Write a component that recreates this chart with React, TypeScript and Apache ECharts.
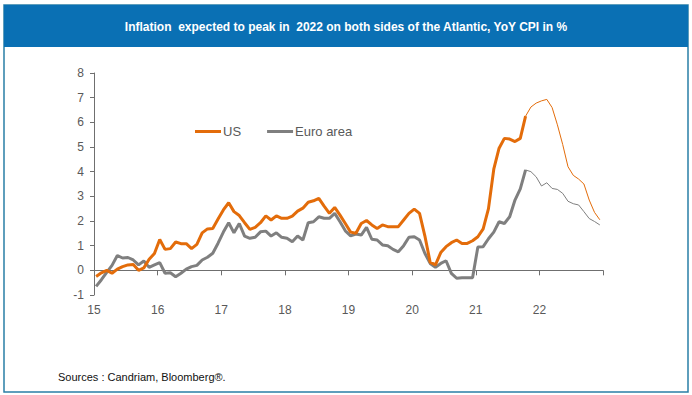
import React, { useEffect, useRef } from "react";
import * as echarts from "echarts";

const START_YEAR = 2015;
const X_MIN = 2015;
const X_MAX = 2023;
const Y_MIN = -1;
const Y_MAX = 8;

const TITLE = "Inflation  expected to peak in  2022 on both sides of the Atlantic, YoY CPI in %";
const SOURCE = "Sources : Candriam, Bloomberg®.";
const SERIES_NAMES = ["US", "Euro area"];

// Monthly YoY CPI, Jan 2015 .. Oct 2021 (actual)
const usActual = [
  -0.25, -0.1, 0.0, -0.12, 0.05, 0.15, 0.22, 0.24, 0.0, 0.1, 0.45, 0.68,
  1.25, 0.85, 0.88, 1.15, 1.08, 1.08, 0.88, 1.05, 1.52, 1.68, 1.7, 2.08,
  2.45, 2.74, 2.38, 2.22, 1.93, 1.66, 1.74, 1.93, 2.21, 2.04, 2.21, 2.11,
  2.11, 2.2, 2.4, 2.52, 2.76, 2.82, 2.92, 2.6, 2.31, 2.55, 2.24, 1.9,
  1.55, 1.5, 1.9, 2.02, 1.84, 1.7, 1.84, 1.77, 1.77, 1.77, 2.04, 2.31,
  2.48, 2.31, 1.4, 0.33, 0.22, 0.72, 0.96, 1.12, 1.23, 1.09, 1.09, 1.2,
  1.36, 1.68, 2.5, 4.1, 4.95, 5.35, 5.32, 5.22, 5.35, 6.25,
];
// Oct 2021 .. Dec 2022 (forecast)
const usForecast = [6.25, 6.62, 6.78, 6.87, 6.93, 6.6, 5.9, 5.1, 4.2, 3.85, 3.7, 3.5, 2.85, 2.35, 2.05];

const euroActual = [
  -0.65, -0.38, -0.08, 0.2, 0.6, 0.5, 0.52, 0.42, 0.22, 0.38, 0.12, 0.22,
  0.31, -0.12, -0.1, -0.26, -0.12, 0.05, 0.15, 0.2, 0.42, 0.53, 0.69, 1.1,
  1.55, 1.93, 1.52, 1.9, 1.39, 1.3, 1.34, 1.56, 1.59, 1.39, 1.52, 1.34,
  1.3, 1.16, 1.39, 1.23, 1.93, 1.97, 2.17, 2.11, 2.11, 2.31, 1.97, 1.6,
  1.4, 1.47, 1.43, 1.74, 1.26, 1.23, 1.03, 1.0, 0.85, 0.75, 1.0, 1.34,
  1.36, 1.23, 0.69, 0.28, 0.12, 0.28, 0.39, -0.12, -0.32, -0.3, -0.3, -0.3,
  0.95, 0.96, 1.28, 1.55, 1.97, 1.9, 2.17, 2.85, 3.3, 4.07,
];
const euroForecast = [4.07, 4.0, 3.79, 3.42, 3.55, 3.32, 3.28, 3.12, 2.8, 2.7, 2.65, 2.38, 2.1, 1.98, 1.84];

const FORECAST_START = usActual.length - 1;

const toPoints = (vals: number[], offset: number) =>
  vals.map((v, i) => [START_YEAR + (offset + i + 0.4) / 12, v]);

const ORANGE = "#E36C0A";
const GREY = "#7F7F7F";
const AXIS = "#6f6f6f";
const LABEL = "#595959";
const FONT = "'Liberation Sans', Arial, sans-serif";

export default function App() {
  const ref = useRef<HTMLDivElement>(null);
  useEffect(() => {
    document.body.style.margin = "0";
    if (!ref.current) return;
    const chart = echarts.init(ref.current, null, { renderer: "svg" });
    chart.setOption({
      animation: false,
      backgroundColor: "#ffffff",
      textStyle: { fontFamily: FONT },
      grid: { left: 94, right: 89, top: 73, bottom: 100, containLabel: false },
      legend: {
        data: SERIES_NAMES,
        left: 190,
        top: 120,
        icon: "rect",
        itemWidth: 26,
        itemHeight: 3,
        itemGap: 26,
        textStyle: { fontSize: 13, color: LABEL, fontFamily: FONT, padding: [0, 0, 0, -3] },
      },
      xAxis: [
        {
          type: "value",
          min: X_MIN,
          max: X_MAX,
          interval: 1,
          axisLine: { show: true, onZero: true, lineStyle: { color: AXIS, width: 1 } },
          axisTick: { show: true, inside: false, length: 5, lineStyle: { color: AXIS } },
          axisLabel: { show: false },
          splitLine: { show: false },
        },
        {
          type: "value",
          position: "bottom",
          min: X_MIN,
          max: X_MAX,
          interval: 1,
          axisLine: { show: false, onZero: false },
          axisTick: { show: false },
          axisLabel: {
            show: true,
            margin: 9,
            fontSize: 12,
            color: LABEL,
            fontFamily: FONT,
            formatter: (v: number) => (v < X_MAX ? String(v - 2000) : ""),
          },
          splitLine: { show: false },
        },
      ],
      yAxis: {
        type: "value",
        min: Y_MIN,
        max: Y_MAX,
        interval: 1,
        axisLine: { show: true, lineStyle: { color: AXIS, width: 1 } },
        axisTick: { show: true, length: 4, lineStyle: { color: AXIS } },
        axisLabel: { fontSize: 12, color: LABEL, margin: 10, fontFamily: FONT },
        splitLine: { show: false },
      },
      series: [
        {
          name: "US",
          type: "line",
          xAxisIndex: 0,
          data: toPoints(usActual, 0),
          showSymbol: false,
          lineStyle: { color: ORANGE, width: 3 },
          itemStyle: { color: ORANGE },
          z: 3,
        },
        {
          name: "US forecast",
          type: "line",
          xAxisIndex: 0,
          data: toPoints(usForecast, FORECAST_START),
          showSymbol: false,
          lineStyle: { color: ORANGE, width: 1 },
          itemStyle: { color: ORANGE },
          z: 3,
        },
        {
          name: "Euro area",
          type: "line",
          xAxisIndex: 0,
          data: toPoints(euroActual, 0),
          showSymbol: false,
          lineStyle: { color: GREY, width: 3 },
          itemStyle: { color: GREY },
          z: 2,
        },
        {
          name: "Euro area forecast",
          type: "line",
          xAxisIndex: 0,
          data: toPoints(euroForecast, FORECAST_START),
          showSymbol: false,
          lineStyle: { color: GREY, width: 1 },
          itemStyle: { color: GREY },
          z: 2,
        },
      ],
      graphic: [
        {
          type: "rect",
          shape: { x: 4, y: 5, width: 684, height: 387 },
          style: { fill: "none", stroke: "#2a7fa6", lineWidth: 1.5 },
          z: 0,
          silent: true,
        },
        {
          type: "rect",
          shape: { x: 4, y: 5, width: 684, height: 42 },
          style: { fill: "#0a70b4" },
          z: 1,
          silent: true,
        },
        {
          type: "text",
          x: 346,
          y: 27,
          style: {
            text: TITLE,
            fill: "#ffffff",
            font: "bold 12px 'Liberation Sans Narrow', 'Liberation Sans', Arial, sans-serif",
            align: "center",
            verticalAlign: "middle",
          },
          z: 2,
          silent: true,
        },
        {
          type: "text",
          x: 58,
          y: 377,
          style: {
            text: SOURCE,
            fill: "#111111",
            font: "11px 'Liberation Sans', Arial, sans-serif",
            align: "left",
            verticalAlign: "middle",
          },
          z: 2,
          silent: true,
        },
      ],
    });
    return () => chart.dispose();
  }, []);
  return <div ref={ref} style={{ width: 692, height: 395 }} />;
}
